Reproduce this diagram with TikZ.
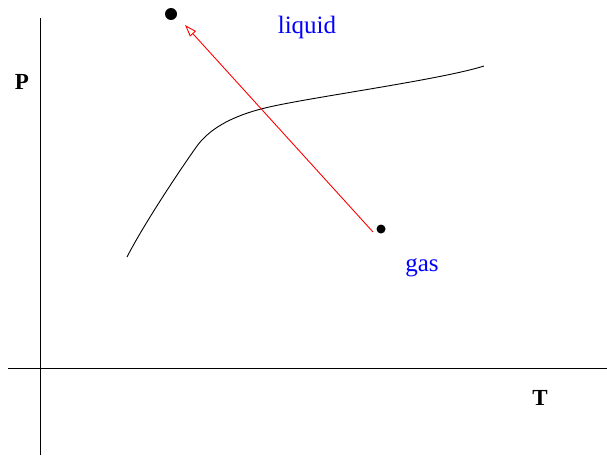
\documentclass[tikz,border=0pt]{standalone}
\usepackage{fontspec}
\setmainfont{Liberation Serif}
\usepackage{tikz}
\usetikzlibrary{arrows.meta}

\begin{document}
\begin{tikzpicture}[
    x=1pt, y=-1pt,
    axis/.style={line width=0.9pt},
    lbl/.style={font=\fontsize{25}{29}\selectfont, text=blue},
    axlbl/.style={font=\fontsize{23}{27}\selectfont\bfseries},
    dot/.style={circle, fill=black, inner sep=0pt, minimum size=#1},
    arrow/.style={-{Triangle[open, length=12pt, width=8pt]}, red, line width=0.9pt}
]
\useasboundingbox (0,0) rectangle (607,455);

% axes
\coordinate (ytop) at (40,18);
\coordinate (ybot) at (40,455);
\coordinate (xleft) at (8,368);
\coordinate (xright) at (607,368);
\draw[axis] (ybot) -- (ytop);
\draw[axis] (xleft) -- (xright);

\node[axlbl] (P) at (22,82) {P};
\node[axlbl] (T) at (540,398) {T};

% coexistence curve
\draw[axis] (127,257) .. controls (145,222) and (182,167) .. (197,146)
            .. controls (208,131) and (228,117) .. (265,108)
            .. controls (305,98) and (440,80) .. (484,66);

% states
\node[dot=12pt] (liqdot) at (171,14) {};
\node[dot=9pt]  (gasdot) at (381,229) {};
\node[lbl] (liquid) at (307,27) {liquid};
\node[lbl] (gas)    at (422,268) {gas};

\coordinate (start) at (373,232);
\coordinate (tip) at (185,25);
\draw[arrow] (start) -- (tip);

\end{tikzpicture}
\end{document}
